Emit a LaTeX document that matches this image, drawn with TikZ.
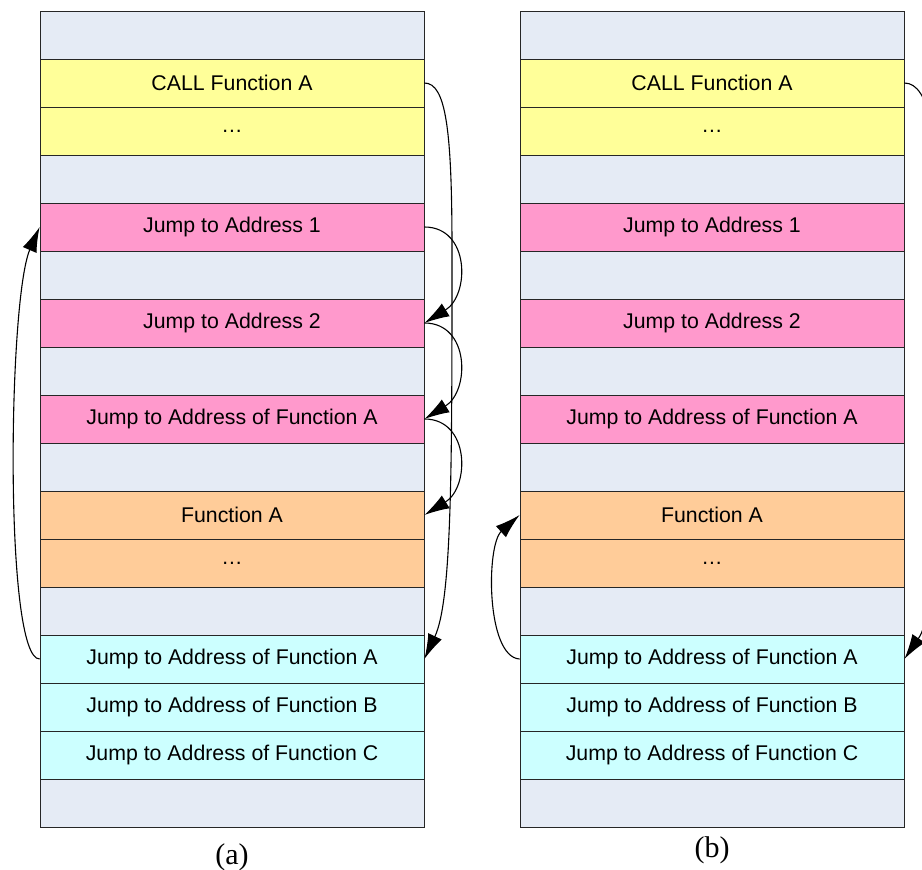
\documentclass[tikz,border=0pt]{standalone}
\usepackage{fontspec}
\setmainfont{Liberation Serif}
\newfontfamily\arialfont{Liberation Sans}
\usetikzlibrary{arrows.meta}
\definecolor{bgc}{HTML}{E5EBF5}
\definecolor{yel}{HTML}{FFFF99}
\definecolor{pnk}{HTML}{FF99CC}
\definecolor{org}{HTML}{FFCC99}
\definecolor{cyn}{HTML}{CCFFFF}
\tikzset{
  rowbox/.style={draw=black!85, line width=0.8pt, minimum width=384pt, minimum height=48pt,
    inner sep=0pt, font=\arialfont\fontsize{21.3}{24}\selectfont},
  jumparrow/.style={draw=black, line width=1.1pt, -{Latex[length=25pt,width=15pt]}},
  caption/.style={font=\fontsize{30}{34}\selectfont, inner sep=0pt, anchor=base}
}
\begin{document}
\begin{tikzpicture}[x=1pt,y=-1pt]
\clip (0,0) rectangle (922,870);
\fill[white] (0,0) rectangle (922,870);
\foreach \col/\x in {a/232,b/712}{
  \foreach \i/\c/\t in {0/bgc/{},1/yel/CALL Function A,2/yel/…,3/bgc/{},
      4/pnk/Jump to Address 1,5/bgc/{},6/pnk/Jump to Address 2,7/bgc/{},
      8/pnk/Jump to Address of Function A,9/bgc/{},10/org/Function A,11/org/…,
      12/bgc/{},13/cyn/Jump to Address of Function A,14/cyn/Jump to Address of Function B,
      15/cyn/Jump to Address of Function C,16/bgc/{}}{
    \node[rowbox, fill=\c] (\col\i) at (\x,35+48*\i) {\raisebox{-1pt}{\t}};
  }
}
% captions
\node[caption] (capa) at (232,864) {(a)};
\node[caption] (capb) at (712,857) {(b)};
% (a) arrows
\draw[jumparrow] (a1.east) .. controls (446,83) and (452,130) .. (452,250)
   .. controls (452,470) and (452,600) .. (a13.east);
\draw[jumparrow] (a13.west) .. controls (4,659) and (8,300) .. (a4.west);
\draw[jumparrow] (a4.east) .. controls (470,227) and (470,295) .. (a6.east);
\draw[jumparrow] (a6.east) .. controls (470,323) and (470,391) .. (a8.east);
\draw[jumparrow] (a8.east) .. controls (470,419) and (470,487) .. (a10.east);
% (b) arrows
\draw[jumparrow] (b1.east) .. controls (930,83) and (940,140) .. (940,260)
   .. controls (940,480) and (938,610) .. (b13.east);
\draw[jumparrow] (b13.west) .. controls (486,657) and (486,545) .. (b10.west);
\end{tikzpicture}
\end{document}
